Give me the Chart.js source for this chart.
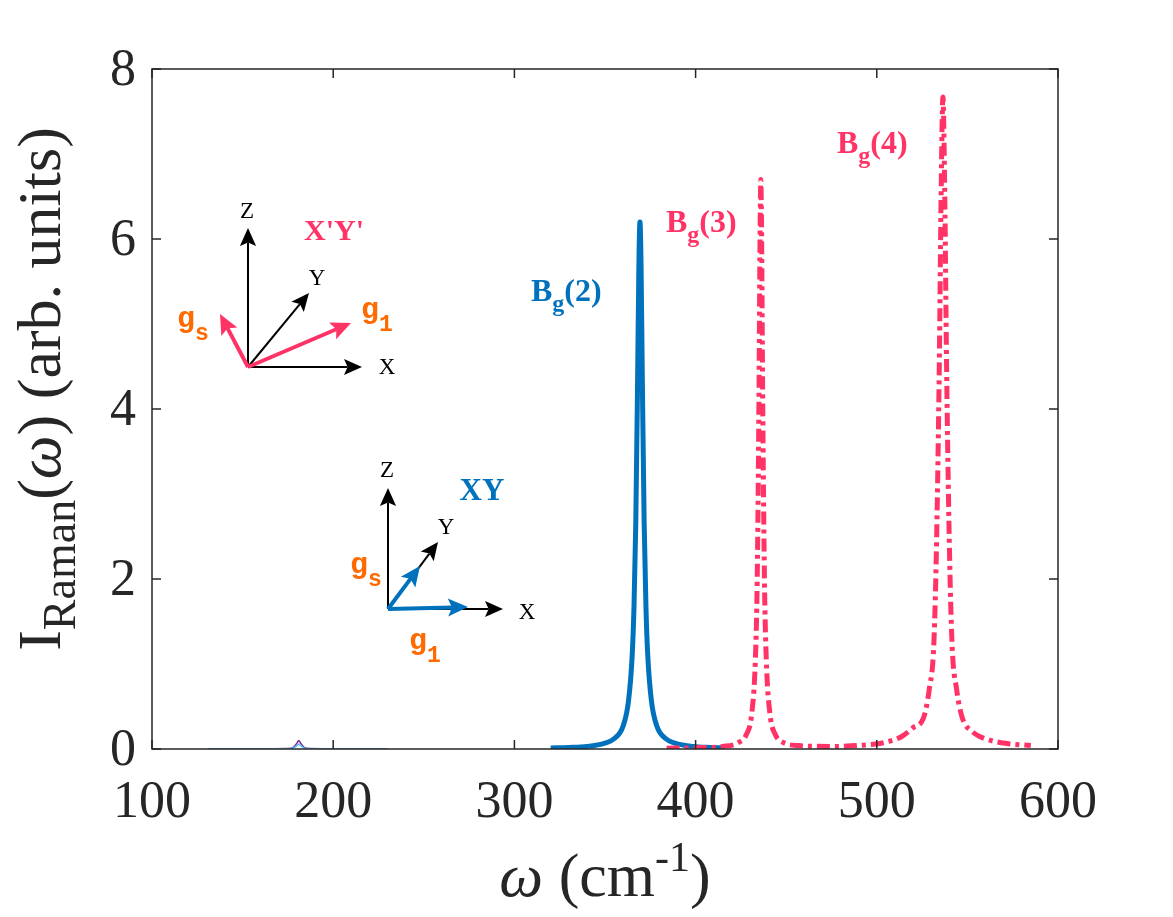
<!DOCTYPE html>
<html lang="en">
<head>
  <meta charset="UTF-8">
  <script src="https://cdn.jsdelivr.net/npm/chart.js"></script>
  <title>Raman spectrum</title>
  <style>
    body { margin: 0; background: #fff; }
    canvas { display: block; }
  </style>
</head>
<body>
  <canvas id="raman" width="1173" height="917"></canvas>

  <script>
    // values
    const blueOmega = [320, 330, 340, 350, 355, 360, 363, 365, 366, 367, 368, 368.7, 369.3, 369.9, 370.6, 371.6, 372.6, 373.6, 375.6, 378.6, 383.6, 388.6, 398.6, 408.6, 415];
    const blueIntensity = [0.012, 0.018, 0.03, 0.07, 0.12, 0.27, 0.57, 1.1, 1.67, 2.67, 4.36, 5.69, 6.2, 5.69, 4.36, 2.67, 1.67, 1.1, 0.57, 0.27, 0.12, 0.07, 0.03, 0.018, 0.012];

    const pinkOmega = [384, 400, 415, 424, 428, 431, 433, 434, 435, 435.5, 436, 436.5, 437, 438, 439, 441, 444, 448, 457, 475, 495, 505, 514, 520, 526, 529, 531.5, 533, 534.5, 535.5, 536.5, 537.5, 538.5, 540, 541.5, 544, 547, 553, 560, 570, 585];
    const pinkIntensity = [0.01, 0.015, 0.03, 0.08, 0.17, 0.42, 1.06, 1.99, 4.21, 5.84, 6.7, 5.84, 4.21, 1.99, 1.06, 0.42, 0.17, 0.08, 0.04, 0.03, 0.05, 0.08, 0.15, 0.25, 0.38, 0.71, 1.25, 2.45, 4.53, 6.53, 7.67, 6.53, 4.53, 2.45, 1.25, 0.71, 0.38, 0.2, 0.12, 0.07, 0.04];

    const smallOmega = [131, 175, 178, 180, 181, 182, 184, 187, 230];
    const purpleIntensity = [0, 0.005, 0.02, 0.07, 0.1, 0.07, 0.02, 0.005, 0];
    const cyanIntensity = [0, 0.003, 0.012, 0.04, 0.06, 0.04, 0.012, 0.003, 0];

    const xTicks = [100, 200, 300, 400, 500, 600];
    const yTicks = [0, 2, 4, 6, 8];

    const BLUE = "#0072BD";
    const PINK = "#FF3366";
    const ORANGE = "#FF6A00";
    const AXIS = "#262626";
    const SERIF = "\"Liberation Serif\", \"Times New Roman\", serif";
    const MONO = "\"Liberation Mono\", \"Courier New\", monospace";

    const pts = (xs, ys) => xs.map((x, i) => ({ x, y: ys[i] }));

    function arrow(ctx, x0, y0, x1, y1, color, width, head) {
      const a = Math.atan2(y1 - y0, x1 - x0);
      const hl = head, hw = head * 0.45;
      const bx = x1 - Math.cos(a) * hl * 0.8, by = y1 - Math.sin(a) * hl * 0.8;
      ctx.strokeStyle = color;
      ctx.fillStyle = color;
      ctx.lineWidth = width;
      ctx.beginPath();
      ctx.moveTo(x0, y0);
      ctx.lineTo(bx, by);
      ctx.stroke();
      ctx.beginPath();
      ctx.moveTo(x1, y1);
      ctx.lineTo(x1 - Math.cos(a) * hl - Math.sin(a) * hw, y1 - Math.sin(a) * hl + Math.cos(a) * hw);
      ctx.lineTo(bx, by);
      ctx.lineTo(x1 - Math.cos(a) * hl + Math.sin(a) * hw, y1 - Math.sin(a) * hl - Math.cos(a) * hw);
      ctx.closePath();
      ctx.fill();
    }

    // draws a run of [text, font, dy] pieces starting at x
    function run(ctx, pieces, x, y, color) {
      ctx.fillStyle = color;
      ctx.textAlign = "left";
      ctx.textBaseline = "alphabetic";
      pieces.forEach(([t, f, dy]) => {
        ctx.font = f;
        ctx.fillText(t, x, y + dy);
        x += ctx.measureText(t).width;
      });
    }
    function runWidth(ctx, pieces) {
      let w = 0;
      pieces.forEach(([t, f]) => { ctx.font = f; w += ctx.measureText(t).width; });
      return w;
    }

    function label(ctx, g, sub, x, y, color) {
      run(ctx, [[g, "bold 30px " + MONO, 0], [sub, "bold 23px " + MONO, 13]], x, y, color);
    }

    function peakLabel(ctx, n, x, y, color) {
      run(ctx, [["B", "bold 32px " + SERIF, 0], ["g", "bold 24px " + SERIF, 10], ["(" + n + ")", "bold 32px " + SERIF, 0]], x, y, color);
    }

    function axisLetters(ctx, list) {
      ctx.font = "23px " + SERIF;
      ctx.fillStyle = "#000";
      ctx.textAlign = "center";
      ctx.textBaseline = "middle";
      list.forEach(([t, x, y]) => ctx.fillText(t, x, y));
    }

    const framePlugin = {
      id: "frame",
      afterDraw(chart) {
        const ctx = chart.ctx;
        const { left, right, top, bottom } = chart.chartArea;
        const xs = chart.scales.x, ys = chart.scales.y;
        ctx.save();

        // box and inward ticks
        ctx.strokeStyle = AXIS;
        ctx.lineWidth = 1.5;
        ctx.strokeRect(left, top, right - left, bottom - top);
        ctx.beginPath();
        xTicks.forEach(v => {
          const px = xs.getPixelForValue(v);
          ctx.moveTo(px, bottom); ctx.lineTo(px, bottom - 9);
          ctx.moveTo(px, top); ctx.lineTo(px, top + 9);
        });
        yTicks.forEach(v => {
          const py = ys.getPixelForValue(v);
          ctx.moveTo(left, py); ctx.lineTo(left + 9, py);
          ctx.moveTo(right, py); ctx.lineTo(right - 9, py);
        });
        ctx.stroke();

        // tick labels
        ctx.fillStyle = AXIS;
        ctx.font = "52px " + SERIF;
        ctx.textAlign = "center";
        ctx.textBaseline = "alphabetic";
        xTicks.forEach(v => ctx.fillText(String(v), xs.getPixelForValue(v), 817));
        ctx.textAlign = "right";
        ctx.textBaseline = "middle";
        yTicks.forEach(v => ctx.fillText(String(v), 136, ys.getPixelForValue(v) + 2));

        // x title
        const xt = [["\u03c9", "italic 62px " + SERIF, 0], [" (cm", "62px " + SERIF, 0], ["-1", "42px " + SERIF, -25], [")", "62px " + SERIF, 0]];
        run(ctx, xt, 605 - runWidth(ctx, xt) / 2, 896, AXIS);

        // y title
        const yt = [["I", "62px " + SERIF, 0], ["Raman", "46px " + SERIF, 15], ["(", "62px " + SERIF, 0], ["\u03c9", "italic 62px " + SERIF, 0], [") (arb. units)", "62px " + SERIF, 0]];
        ctx.save();
        ctx.translate(60, 389);
        ctx.rotate(-Math.PI / 2);
        run(ctx, yt, -runWidth(ctx, yt) / 2, 0, AXIS);
        ctx.restore();

        // peak labels
        peakLabel(ctx, 2, 531, 301, BLUE);
        peakLabel(ctx, 3, 666, 232, PINK);
        peakLabel(ctx, 4, 837, 153, PINK);

        // inset X'Y'
        arrow(ctx, 248, 367, 248, 228, "#000", 2, 18);
        arrow(ctx, 248, 367, 362, 367, "#000", 2, 18);
        arrow(ctx, 248, 367, 309, 293, "#000", 2, 18);
        arrow(ctx, 248, 367, 351, 323, PINK, 4, 20);
        arrow(ctx, 248, 367, 220, 314, PINK, 4, 20);
        axisLetters(ctx, [["Z", 247, 212], ["X", 387, 368], ["Y", 317, 279]]);
        label(ctx, "g", "1", 361, 318, ORANGE);
        label(ctx, "g", "s", 177, 327, ORANGE);
        ctx.font = "bold 30px " + SERIF;
        ctx.fillStyle = PINK;
        ctx.textAlign = "center";
        ctx.textBaseline = "middle";
        ctx.fillText("X'Y'", 334, 232);

        // inset XY
        arrow(ctx, 388, 609, 388, 488, "#000", 2, 18);
        arrow(ctx, 388, 609, 503, 609, "#000", 2, 18);
        arrow(ctx, 388, 609, 438, 542, "#000", 2, 18);
        arrow(ctx, 388, 609, 468, 607, BLUE, 4, 20);
        arrow(ctx, 388, 609, 420, 566, BLUE, 4, 20);
        axisLetters(ctx, [["Z", 387, 471], ["X", 527, 613], ["Y", 446, 528]]);
        label(ctx, "g", "s", 350, 573, ORANGE);
        label(ctx, "g", "1", 409, 649, ORANGE);
        ctx.font = "bold 31px " + SERIF;
        ctx.fillStyle = BLUE;
        ctx.textAlign = "center";
        ctx.textBaseline = "middle";
        ctx.fillText("XY", 482, 492);

        ctx.restore();
      }
    };

    const chart = new Chart(document.getElementById("raman"), {
      type: "line",
      data: {
        datasets: [
          { data: pts(pinkOmega, pinkIntensity), borderColor: PINK, borderWidth: 5, borderDash: [13, 5, 4, 5] },
          { data: pts(blueOmega, blueIntensity), borderColor: BLUE, borderWidth: 5 },
          { data: pts(smallOmega, cyanIntensity), borderColor: "#4DBEEE", borderWidth: 1.5 },
          { data: pts(smallOmega, purpleIntensity), borderColor: "#7E2F8E", borderWidth: 1.5 }
        ]
      },
      options: {
        responsive: false,
        animation: false,
        layout: { padding: { left: 152, right: 115, top: 69, bottom: 168 } },
        elements: { point: { radius: 0 }, line: { cubicInterpolationMode: "monotone", borderJoinStyle: "round" } },
        plugins: { legend: { display: false }, tooltip: { enabled: false } },
        scales: {
          x: { type: "linear", min: 100, max: 600, display: false },
          y: { min: 0, max: 8, display: false }
        }
      },
      plugins: [framePlugin]
    });
  </script>
</body>
</html>
